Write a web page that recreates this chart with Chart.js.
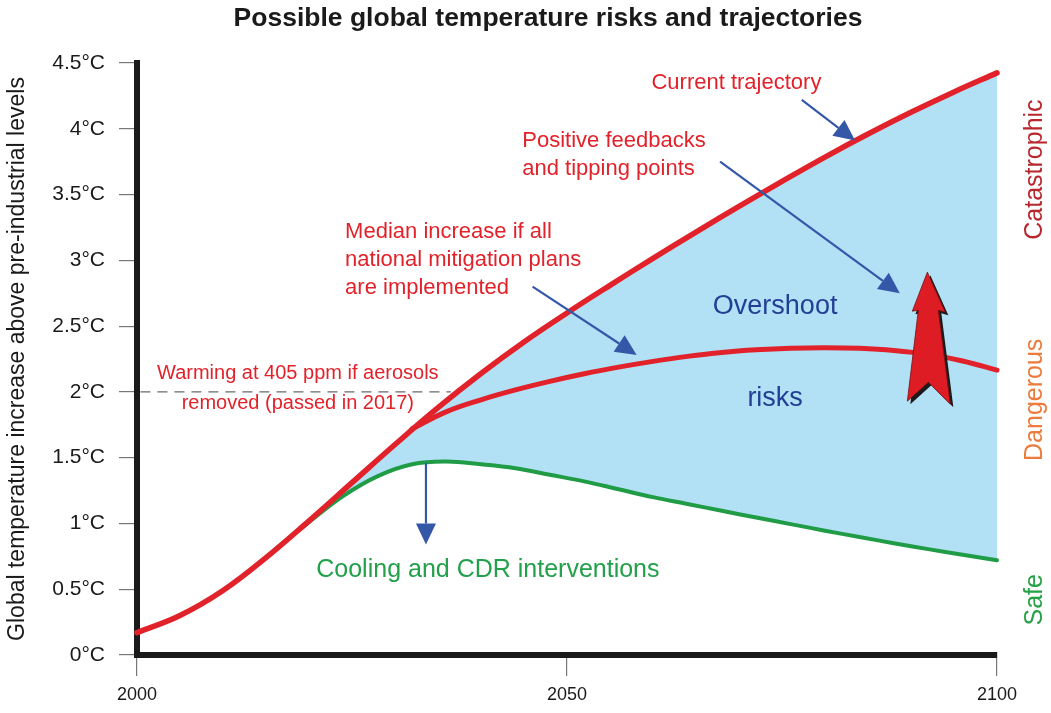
<!DOCTYPE html>
<html>
<head>
<meta charset="utf-8">
<title>Possible global temperature risks and trajectories</title>
<script src="https://cdn.jsdelivr.net/npm/chart.js@4.4.1/dist/chart.umd.min.js"></script>
<style>
  html, body { margin: 0; padding: 0; background: #fff; }
  #wrap { width: 1051px; height: 713px; }
</style>
</head>
<body>
<div id="wrap"><canvas id="chart"></canvas></div>
<script>
// --- data ---
const upperYears = [2000, 2005, 2010, 2015, 2020, 2025, 2030, 2035, 2040, 2045, 2050, 2055, 2060, 2065, 2070, 2075, 2080, 2085, 2090, 2095, 2100];
const upperTemps = [0.17, 0.30, 0.49, 0.74, 1.02, 1.31, 1.60, 1.88, 2.14, 2.38, 2.60, 2.81, 3.015, 3.215, 3.41, 3.60, 3.785, 3.96, 4.125, 4.28, 4.425];

const medianYears = [2032, 2036, 2040, 2044, 2048, 2052, 2056, 2060, 2064, 2068, 2072, 2076, 2080, 2084, 2088, 2092, 2096, 2100];
const medianTemps = [1.72, 1.85, 1.94, 2.015, 2.08, 2.138, 2.188, 2.232, 2.27, 2.30, 2.32, 2.332, 2.336, 2.331, 2.315, 2.285, 2.235, 2.165];

const greenYears = [2016, 2020, 2024, 2028, 2032, 2036, 2040, 2044, 2048, 2052, 2056, 2060, 2064, 2068, 2072, 2076, 2080, 2084, 2088, 2092, 2096, 2100];
const greenTemps = [0.80, 1.01, 1.21, 1.36, 1.45, 1.47, 1.45, 1.42, 1.37, 1.32, 1.26, 1.20, 1.148, 1.096, 1.045, 0.995, 0.945, 0.897, 0.85, 0.805, 0.762, 0.72];

const yTicks = [0, 0.5, 1, 1.5, 2, 2.5, 3, 3.5, 4, 4.5];
const xTicks = [2000, 2050, 2100];

const RED = '#e2222a';
const BLUE = '#3457a8';
const FONT = "'Liberation Sans', Arial, Helvetica, sans-serif";

const toPoints = (xs, ys) => xs.map((x, i) => ({ x: x, y: ys[i] }));

// annotations (positions in data units)
const redNotes = [
    { lines: ['Current trajectory'], x: 2069.7, y: 4.35, align: 'center' },
    { lines: ['Positive feedbacks', 'and tipping points'], x: 2044.8, y: 3.91, align: 'left' },
    { lines: ['Median increase if all', 'national mitigation plans', 'are implemented'], x: 2024.2, y: 3.215, align: 'left' }
];
const blueArrows = [
    { from: [2077.3, 4.22], to: [2083.5, 3.91] },
    { from: [2067.8, 3.75], to: [2088.7, 2.75] },
    { from: [2046.0, 2.80], to: [2058.1, 2.28] },
    { from: [2033.6, 1.46], to: [2033.6, 0.84] }
];

function arrow(ctx, x1, y1, x2, y2) {
    const ang = Math.atan2(y2 - y1, x2 - x1);
    const len = 21, half = 10;
    const bx = x2 - Math.cos(ang) * len, by = y2 - Math.sin(ang) * len;
    ctx.beginPath();
    ctx.moveTo(x1, y1);
    ctx.lineTo(bx, by);
    ctx.stroke();
    ctx.beginPath();
    ctx.moveTo(x2, y2);
    ctx.lineTo(bx + Math.sin(ang) * half, by - Math.cos(ang) * half);
    ctx.lineTo(bx - Math.sin(ang) * half, by + Math.cos(ang) * half);
    ctx.closePath();
    ctx.fill();
}

const underlay = {
    id: 'underlay',
    beforeDatasetsDraw(chart) {
        const { ctx, scales: { x, y } } = chart;
        ctx.save();
        ctx.strokeStyle = '#6a6a6a';
        ctx.lineWidth = 1.2;
        ctx.setLineDash([10, 7]);
        ctx.beginPath();
        ctx.moveTo(x.getPixelForValue(2000.4), y.getPixelForValue(2));
        ctx.lineTo(x.getPixelForValue(2036.5), y.getPixelForValue(2));
        ctx.stroke();
        ctx.restore();
    }
};

const overlay = {
    id: 'overlay',
    afterDatasetsDraw(chart) {
        const { ctx, scales: { x, y }, chartArea } = chart;
        const X = v => x.getPixelForValue(v);
        const Y = v => y.getPixelForValue(v);
        ctx.save();

        // title
        ctx.fillStyle = '#1a1a1a';
        ctx.font = 'bold 26.5px ' + FONT;
        ctx.textAlign = 'center';
        ctx.textBaseline = 'middle';
        ctx.fillText('Possible global temperature risks and trajectories', 548, 19);

        // red notes
        ctx.fillStyle = RED;
        ctx.font = '22px ' + FONT;
        redNotes.forEach(n => {
            ctx.textAlign = n.align;
            n.lines.forEach((t, i) => ctx.fillText(t, X(n.x), Y(n.y) + i * 28));
        });
        ctx.font = '20px ' + FONT;
        ctx.textAlign = 'center';
        ctx.fillText('Warming at 405 ppm if aerosols', X(2018.7), Y(2.14));
        ctx.fillText('removed (passed in 2017)', X(2018.7), Y(1.915));

        // region text
        ctx.fillStyle = '#233f94';
        ctx.font = '27px ' + FONT;
        ctx.fillText('Overshoot', X(2074.2), Y(2.645));
        ctx.fillText('risks', X(2074.2), Y(1.95));

        ctx.fillStyle = '#22a04a';
        ctx.font = '25px ' + FONT;
        ctx.fillText('Cooling and CDR interventions', X(2040.8), Y(0.646));

        // blue arrows
        ctx.strokeStyle = BLUE;
        ctx.fillStyle = BLUE;
        ctx.lineWidth = 2.2;
        blueArrows.forEach(a => arrow(ctx, X(a.from[0]), Y(a.from[1]), X(a.to[0]), Y(a.to[1])));

        // big red arrow
        const tx = X(2091.9), ty = Y(2.91);
        const shape = [[0, 0], [18, 40], [11, 38], [23, 132], [1, 110], [-20, 129], [-9, 38], [-15, 39]];
        const poly = (dx, dy) => {
            ctx.beginPath();
            shape.forEach(([px, py], i) => i ? ctx.lineTo(tx + px + dx, ty + py + dy) : ctx.moveTo(tx + px + dx, ty + py + dy));
            ctx.closePath();
            ctx.fill();
        };
        ctx.fillStyle = '#1b1b1b';
        poly(3, 3);
        ctx.fillStyle = '#dd1c24';
        poly(0, 0);
        ctx.strokeStyle = '#7a0c10';
        ctx.lineWidth = 0.8;
        ctx.stroke();

        // side labels
        const side = [
            { t: 'Catastrophic', c: '#b8262e', v: 3.69 },
            { t: 'Dangerous', c: '#ec7b3c', v: 1.94 },
            { t: 'Safe', c: '#27a047', v: 0.42 }
        ];
        ctx.font = '25px ' + FONT;
        side.forEach(s => {
            ctx.save();
            ctx.translate(chartArea.right + 38, Y(s.v));
            ctx.rotate(-Math.PI / 2);
            ctx.fillStyle = s.c;
            ctx.fillText(s.t, 0, 0);
            ctx.restore();
        });
        ctx.restore();
    }
};

const chart = new Chart(document.getElementById('chart'), {
    type: 'line',
    data: {
        datasets: [
            { label: 'Current trajectory', data: toPoints(upperYears, upperTemps), borderColor: RED, borderWidth: 5.5, fill: false },
            { label: 'Median increase', data: toPoints(medianYears, medianTemps), borderColor: RED, borderWidth: 5, fill: false },
            { label: 'Cooling and CDR', data: toPoints(greenYears, greenTemps), borderColor: '#1f9c45', borderWidth: 4,
              fill: { target: 0 }, backgroundColor: '#b2e1f6' }
        ]
    },
    options: {
        responsive: true,
        maintainAspectRatio: false,
        animation: false,
        events: [],
        layout: { padding: { left: 0, top: 63, right: 54, bottom: 0 } },
        elements: {
            point: { radius: 0 },
            line: { tension: 0.4, borderCapStyle: 'round' }
        },
        datasets: { line: { clip: false } },
        plugins: { legend: { display: false }, tooltip: { enabled: false }, title: { display: false } },
        scales: {
            x: {
                type: 'linear', min: 2000, max: 2100,
                afterFit: s => { s.height = 58; },
                afterBuildTicks: s => { s.ticks = xTicks.map(v => ({ value: v })); },
                border: { display: true, color: '#1a1a1a', width: 6 },
                grid: { drawOnChartArea: false, drawTicks: true, tickLength: 21, color: '#777', lineWidth: 1.2 },
                ticks: { color: '#1a1a1a', font: { family: FONT, size: 18 }, padding: 8, maxRotation: 0, callback: v => String(v) }
            },
            y: {
                type: 'linear', min: 0, max: 4.5,
                afterFit: s => { s.width = 137; },
                afterBuildTicks: s => { s.ticks = yTicks.map(v => ({ value: v })); },
                border: { display: true, color: '#1a1a1a', width: 6 },
                grid: { drawOnChartArea: false, drawTicks: true, tickLength: 18, color: '#777', lineWidth: 1.2 },
                ticks: { color: '#1a1a1a', font: { family: FONT, size: 21 }, padding: 14, callback: v => v + '°C' },
                title: { display: true, text: 'Global temperature increase above pre-industrial levels',
                         color: '#1a1a1a', font: { family: FONT, size: 23 }, padding: { top: 4, bottom: 0 } }
            }
        }
    },
    plugins: [underlay, overlay]
});
</script>
</body>
</html>
